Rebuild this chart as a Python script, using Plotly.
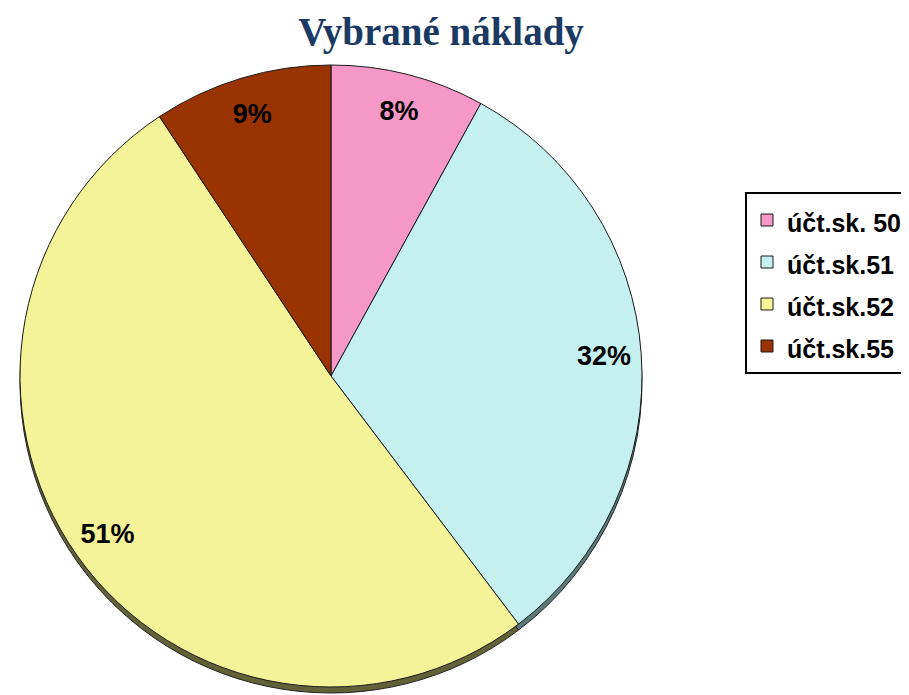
import plotly.graph_objects as go

labels = ["účt.sk. 50", "účt.sk.51", "účt.sk.52", "účt.sk.55"]
values = [8.0, 31.7, 51.0, 9.3]
colors = ["#F598C8", "#C4F0F0", "#F4F398", "#993300"]
side_colors = ["#7A4D63", "#5C7A7A", "#636137", "#4D1A00"]

W, H = 909, 695
# placement of the pie (pixels, in figure coordinates)
cx, cy, r = 323, 368, 311
depth = 6

def dom(cx, cy, r):
    return dict(x=[(cx - r) / W, (cx + r) / W], y=[1 - (cy + r) / H, 1 - (cy - r) / H])

legend_labels = [f'<span style="font-size:25px">{l}</span>' for l in labels]
common = dict(labels=legend_labels, values=values, sort=False, direction="clockwise", rotation=0)

fig = go.Figure()
# 3D side
fig.add_trace(go.Pie(**common, domain=dom(cx, cy + depth, r),
                     marker=dict(colors=side_colors, line=dict(color="#222222", width=1)),
                     textinfo="none", showlegend=False, hoverinfo="skip"))
# top surface
fig.add_trace(go.Pie(**common, domain=dom(cx, cy, r),
                     marker=dict(colors=colors, line=dict(color="#1a1a1a", width=1)),
                     textinfo="none", showlegend=True))
# label ring
fig.add_trace(go.Pie(**common, domain=dom(cx, cy, r), hole=0.76,
                     marker=dict(colors=["rgba(0,0,0,0)"] * 4, line=dict(width=0)),
                     texttemplate="%{percent:.0%}", textposition="inside",
                     insidetextorientation="horizontal",
                     textfont=dict(family="Liberation Sans, Arial", size=27, color="black", weight="bold"),
                     showlegend=False, hoverinfo="skip"))

fig.update_layout(
    width=W, height=H,
    margin=dict(l=0, r=0, t=0, b=0),
    paper_bgcolor="white",
    title=dict(text="<b>Vybrané náklady</b>", x=433 / W, xanchor="center", y=1 - 23 / H, yanchor="middle",
               font=dict(family="Liberation Serif, Times New Roman", size=39, color="#1B3A63")),
    legend=dict(x=737 / W, xanchor="left", y=1 - 184 / H, yanchor="top",
                bordercolor="#000000", borderwidth=2, bgcolor="white",
                font=dict(family="Liberation Sans, Arial", size=30, color="black", weight="bold"),
                traceorder="normal"),
)

fig.write_html("out.html")
